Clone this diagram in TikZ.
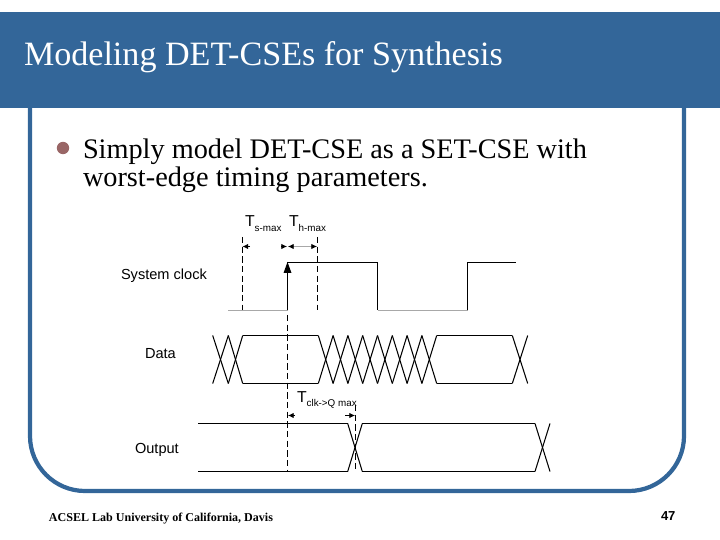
\documentclass[tikz,border=0pt]{standalone}
\usepackage{fontspec}
\usepackage{tikz}
\usetikzlibrary{arrows.meta}
\setmainfont{Liberation Serif}
\newfontfamily\labelfont{Liberation Sans}
\definecolor{slideblue}{HTML}{336699}
\definecolor{bulletred}{HTML}{996666}
\definecolor{lowgray}{HTML}{A8A8A8}
\newcommand{\timelabel}[1]{{\fontsize{9}{9}\selectfont T}\raisebox{-0.5ex}{\fontsize{5.6}{6}\selectfont #1}}
\tikzset{
    txt/.style={anchor=base west, inner sep=0pt, outer sep=0pt},
    sig/.style={txt, font=\labelfont\fontsize{8.3}{10}\selectfont},
    body/.style={txt, font=\fontsize{16.1}{16}\selectfont},
    wave/.style={black, line width=0.6pt},
    guide/.style={black, line width=0.55pt, dash pattern=on 3.6pt off 1.9pt},
    tick/.style={-{Latex[length=3.2pt,width=3pt]}, black, line width=0.4pt}
}
\begin{document}
\begin{tikzpicture}[x=0.02cm,y=-0.02cm]
    \useasboundingbox (0,0) rectangle (720,540);
    % slide frame
    \fill[slideblue] (0,12) rectangle (720,108);
    \draw[slideblue, line width=2.4pt] (30,108) -- (30,436) arc[start angle=180, end angle=90, radius=55] -- (629,491) arc[start angle=90, end angle=0, radius=55] -- (684,108);
    \node[txt, white, font=\fontsize{19.4}{19}\selectfont] (title) at (24,66) {Modeling DET-CSEs for Synthesis};
    % bullet text
    \fill[bulletred] (63,148) circle (6.2);
    \node[body] (line1) at (83,158.5) {Simply model DET-CSE as a SET-CSE with};
    \node[body] (line2) at (83,187) {worst-edge timing parameters.};
    % signal names
    \node[sig] (clklabel) at (121,280) {System clock};
    \node[sig] (datalabel) at (145,358) {Data};
    \node[sig] (outlabel) at (135,453) {Output};
    \node[txt, font=\labelfont] (tsu) at (245,227) {\timelabel{s-max}};
    \node[txt, font=\labelfont] (th) at (289,227) {\timelabel{h-max}};
    \node[txt, font=\labelfont] (tcq) at (297,402) {\timelabel{clk->Q max}};
    % clock
    \draw[lowgray, line width=0.55pt] (228,310.5) -- (287.5,310.5);
    \draw[lowgray, line width=0.55pt] (377.5,310.5) -- (467.5,310.5);
    \draw[wave] (287.5,310.5) -- (287.5,262.5) -- (377.5,262.5) -- (377.5,310.5);
    \draw[wave] (467.5,310.5) -- (467.5,262.5) -- (516,262.5);
    \fill[black] (287.5,262) -- (291.5,273) -- (283.5,273) -- cycle;
    % dashed guides
    \draw[guide] (242.5,237) -- (242.5,310);
    \draw[guide] (317.5,237) -- (317.5,310);
    \draw[guide] (287.5,315) -- (287.5,471);
    \draw[guide] (355.5,405) -- (355.5,471);
    % timing arrows
    \draw[tick] (250,246.5) -- (242.5,246.5);
    \draw[tick] (281,246.5) -- (287,246.5);
    \draw[tick, lowgray, {Latex[length=3.2pt,width=3pt,black]}-{Latex[length=3.2pt,width=3pt,black]}] (288,246.5) -- (317,246.5);
    \draw[tick] (295,415.5) -- (288,415.5);
    \draw[tick] (345,415.5) -- (355,415.5);
    % data
    \draw[wave] (242.7,335.5) -- (318.3,335.5);
    \draw[wave] (242.7,383.5) -- (318.3,383.5);
    \draw[wave] (436.7,335.5) -- (512.3,335.5);
    \draw[wave] (436.7,383.5) -- (512.3,383.5);
    \foreach \xa/\xb in {212.7/228.3,228.3/242.7,318.3/333.1,333.1/347.9,347.9/362.7,362.7/377.5,377.5/392.3,392.3/407.1,407.1/421.9,421.9/436.7,512.3/527.7}
    {
        \draw[wave] (\xa,335.5) -- (\xb,383.5);
        \draw[wave] (\xa,383.5) -- (\xb,335.5);
    }
    % output
    \draw[wave] (198,423.5) -- (347.7,423.5);
    \draw[wave] (198,471.5) -- (347.7,471.5);
    \draw[wave] (362.3,423.5) -- (535,423.5);
    \draw[wave] (362.3,471.5) -- (535,471.5);
    \foreach \xa/\xb in {347.7/362.3,535/550}
    {
        \draw[wave] (\xa,423.5) -- (\xb,471.5);
        \draw[wave] (\xa,471.5) -- (\xb,423.5);
    }
    % footer
    \node[txt, font=\bfseries\fontsize{6.85}{8}\selectfont] (footer) at (49,521.5) {ACSEL Lab University of California, Davis};
    \node[txt, font=\labelfont\bfseries\fontsize{7.4}{8}\selectfont] (page) at (661,520.5) {47};
\end{tikzpicture}
\end{document}
